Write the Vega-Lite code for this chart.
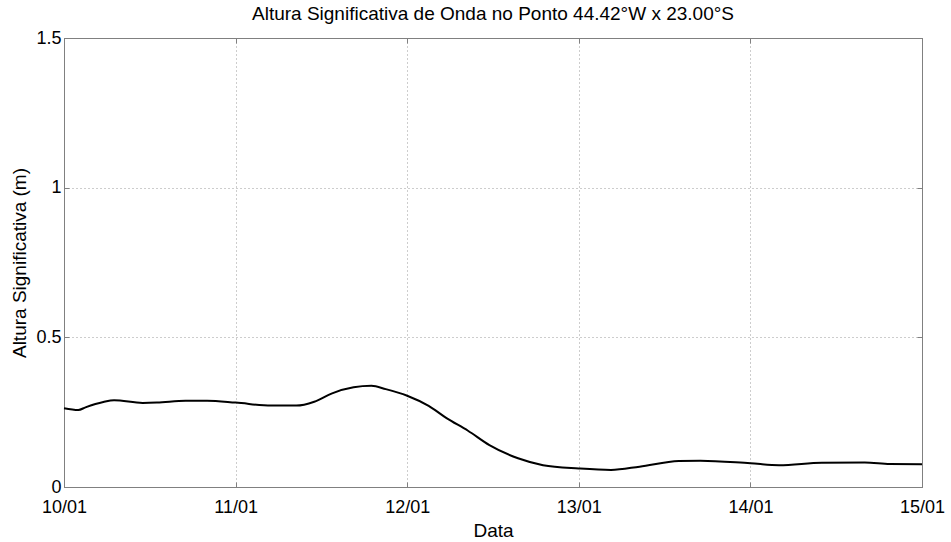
{
  "$schema": "https://vega.github.io/schema/vega-lite/v6.json",
  "autosize": {"type": "none"},
  "padding": {"left": 64, "top": 38, "right": 29, "bottom": 55},
  "width": 858,
  "height": 449,
  "background": "white",
  "config": {
    "font": "Liberation Sans",
    "view": {"stroke": "#808080", "strokeWidth": 1}
  },
  "title": {
    "text": "Altura Significativa de Onda no Ponto 44.42°W x 23.00°S",
    "font": "Liberation Sans",
    "fontSize": 19,
    "fontWeight": "normal",
    "color": "black",
    "anchor": "middle",
    "frame": "group",
    "baseline": "alphabetic",
    "offset": 4,
    "dy": 14
  },
  "data": {
    "values": [
      {"t": "2010-01-10T00:00", "hs": 0.263},
      {"t": "2010-01-10T02:00", "hs": 0.257},
      {"t": "2010-01-10T03:00", "hs": 0.266},
      {"t": "2010-01-10T05:30", "hs": 0.284},
      {"t": "2010-01-10T07:00", "hs": 0.290},
      {"t": "2010-01-10T11:00", "hs": 0.281},
      {"t": "2010-01-10T13:00", "hs": 0.282},
      {"t": "2010-01-10T17:00", "hs": 0.288},
      {"t": "2010-01-10T20:00", "hs": 0.288},
      {"t": "2010-01-11T00:00", "hs": 0.282},
      {"t": "2010-01-11T05:00", "hs": 0.272},
      {"t": "2010-01-11T08:30", "hs": 0.272},
      {"t": "2010-01-11T11:00", "hs": 0.285},
      {"t": "2010-01-11T13:30", "hs": 0.313},
      {"t": "2010-01-11T16:30", "hs": 0.333},
      {"t": "2010-01-11T19:00", "hs": 0.338},
      {"t": "2010-01-11T21:00", "hs": 0.327},
      {"t": "2010-01-12T00:00", "hs": 0.305},
      {"t": "2010-01-12T03:00", "hs": 0.271},
      {"t": "2010-01-12T05:30", "hs": 0.230},
      {"t": "2010-01-12T08:30", "hs": 0.188},
      {"t": "2010-01-12T11:30", "hs": 0.140},
      {"t": "2010-01-12T15:30", "hs": 0.096},
      {"t": "2010-01-12T19:00", "hs": 0.073},
      {"t": "2010-01-13T00:00", "hs": 0.062},
      {"t": "2010-01-13T04:30", "hs": 0.057},
      {"t": "2010-01-13T08:30", "hs": 0.068},
      {"t": "2010-01-13T14:00", "hs": 0.087},
      {"t": "2010-01-13T17:00", "hs": 0.088},
      {"t": "2010-01-14T00:00", "hs": 0.079},
      {"t": "2010-01-14T04:00", "hs": 0.073},
      {"t": "2010-01-14T10:00", "hs": 0.081},
      {"t": "2010-01-14T16:00", "hs": 0.082},
      {"t": "2010-01-14T19:30", "hs": 0.077},
      {"t": "2010-01-15T00:00", "hs": 0.076}
    ]
  },
  "layer": [
    {
      "mark": {"type": "line", "color": "black", "strokeWidth": 2, "interpolate": "monotone"},
      "encoding": {
        "x": {
          "field": "t", "type": "temporal",
          "scale": {"domain": [{"year": 2010, "month": 1, "date": 10}, {"year": 2010, "month": 1, "date": 15}]},
          "axis": {
            "orient": "bottom",
            "title": "Data",
            "titleFont": "Liberation Sans", "titleFontSize": 19, "titleFontWeight": "normal", "titleColor": "black",
            "titleBaseline": "alphabetic", "titleY": 49,
            "format": "%d/%m",
            "tickCount": {"interval": "day", "step": 1},
            "labelFont": "Liberation Sans", "labelFontSize": 18, "labelColor": "black",
            "labelFlush": false, "labelOverlap": false,
            "tickSize": -5, "tickColor": "#808080",
            "labelPadding": 16,
            "domainColor": "#808080",
            "grid": true, "gridColor": "#9a9a9a", "gridDash": [1, 3], "gridOpacity": 1
          }
        },
        "y": {
          "field": "hs", "type": "quantitative",
          "scale": {"domain": [0, 1.5], "nice": false},
          "axis": {
            "orient": "left",
            "title": "Altura Significativa (m)",
            "titleFont": "Liberation Sans", "titleFontSize": 19, "titleFontWeight": "normal", "titleColor": "black",
            "titleBaseline": "alphabetic", "titleX": -39,
            "values": [0, 0.5, 1, 1.5],
            "format": "~g",
            "labelFont": "Liberation Sans", "labelFontSize": 18, "labelColor": "black",
            "labelFlush": false,
            "tickSize": -5, "tickColor": "#808080",
            "labelPadding": 8,
            "domainColor": "#808080",
            "grid": true, "gridColor": "#9a9a9a", "gridDash": [1, 3], "gridOpacity": 1
          }
        }
      }
    },
    {
      "mark": {"type": "line", "opacity": 0},
      "encoding": {
        "x": {
          "field": "t", "type": "temporal",
          "axis": {
            "orient": "top", "title": null, "labels": false, "grid": false,
            "tickCount": {"interval": "day", "step": 1},
            "tickSize": -5, "tickColor": "#808080", "domainColor": "#808080"
          }
        },
        "y": {
          "field": "hs", "type": "quantitative",
          "axis": {
            "orient": "right", "title": null, "labels": false, "grid": false,
            "values": [0, 0.5, 1, 1.5],
            "tickSize": -5, "tickColor": "#808080", "domainColor": "#808080"
          }
        }
      }
    }
  ],
  "resolve": {"axis": {"x": "independent", "y": "independent"}}
}
